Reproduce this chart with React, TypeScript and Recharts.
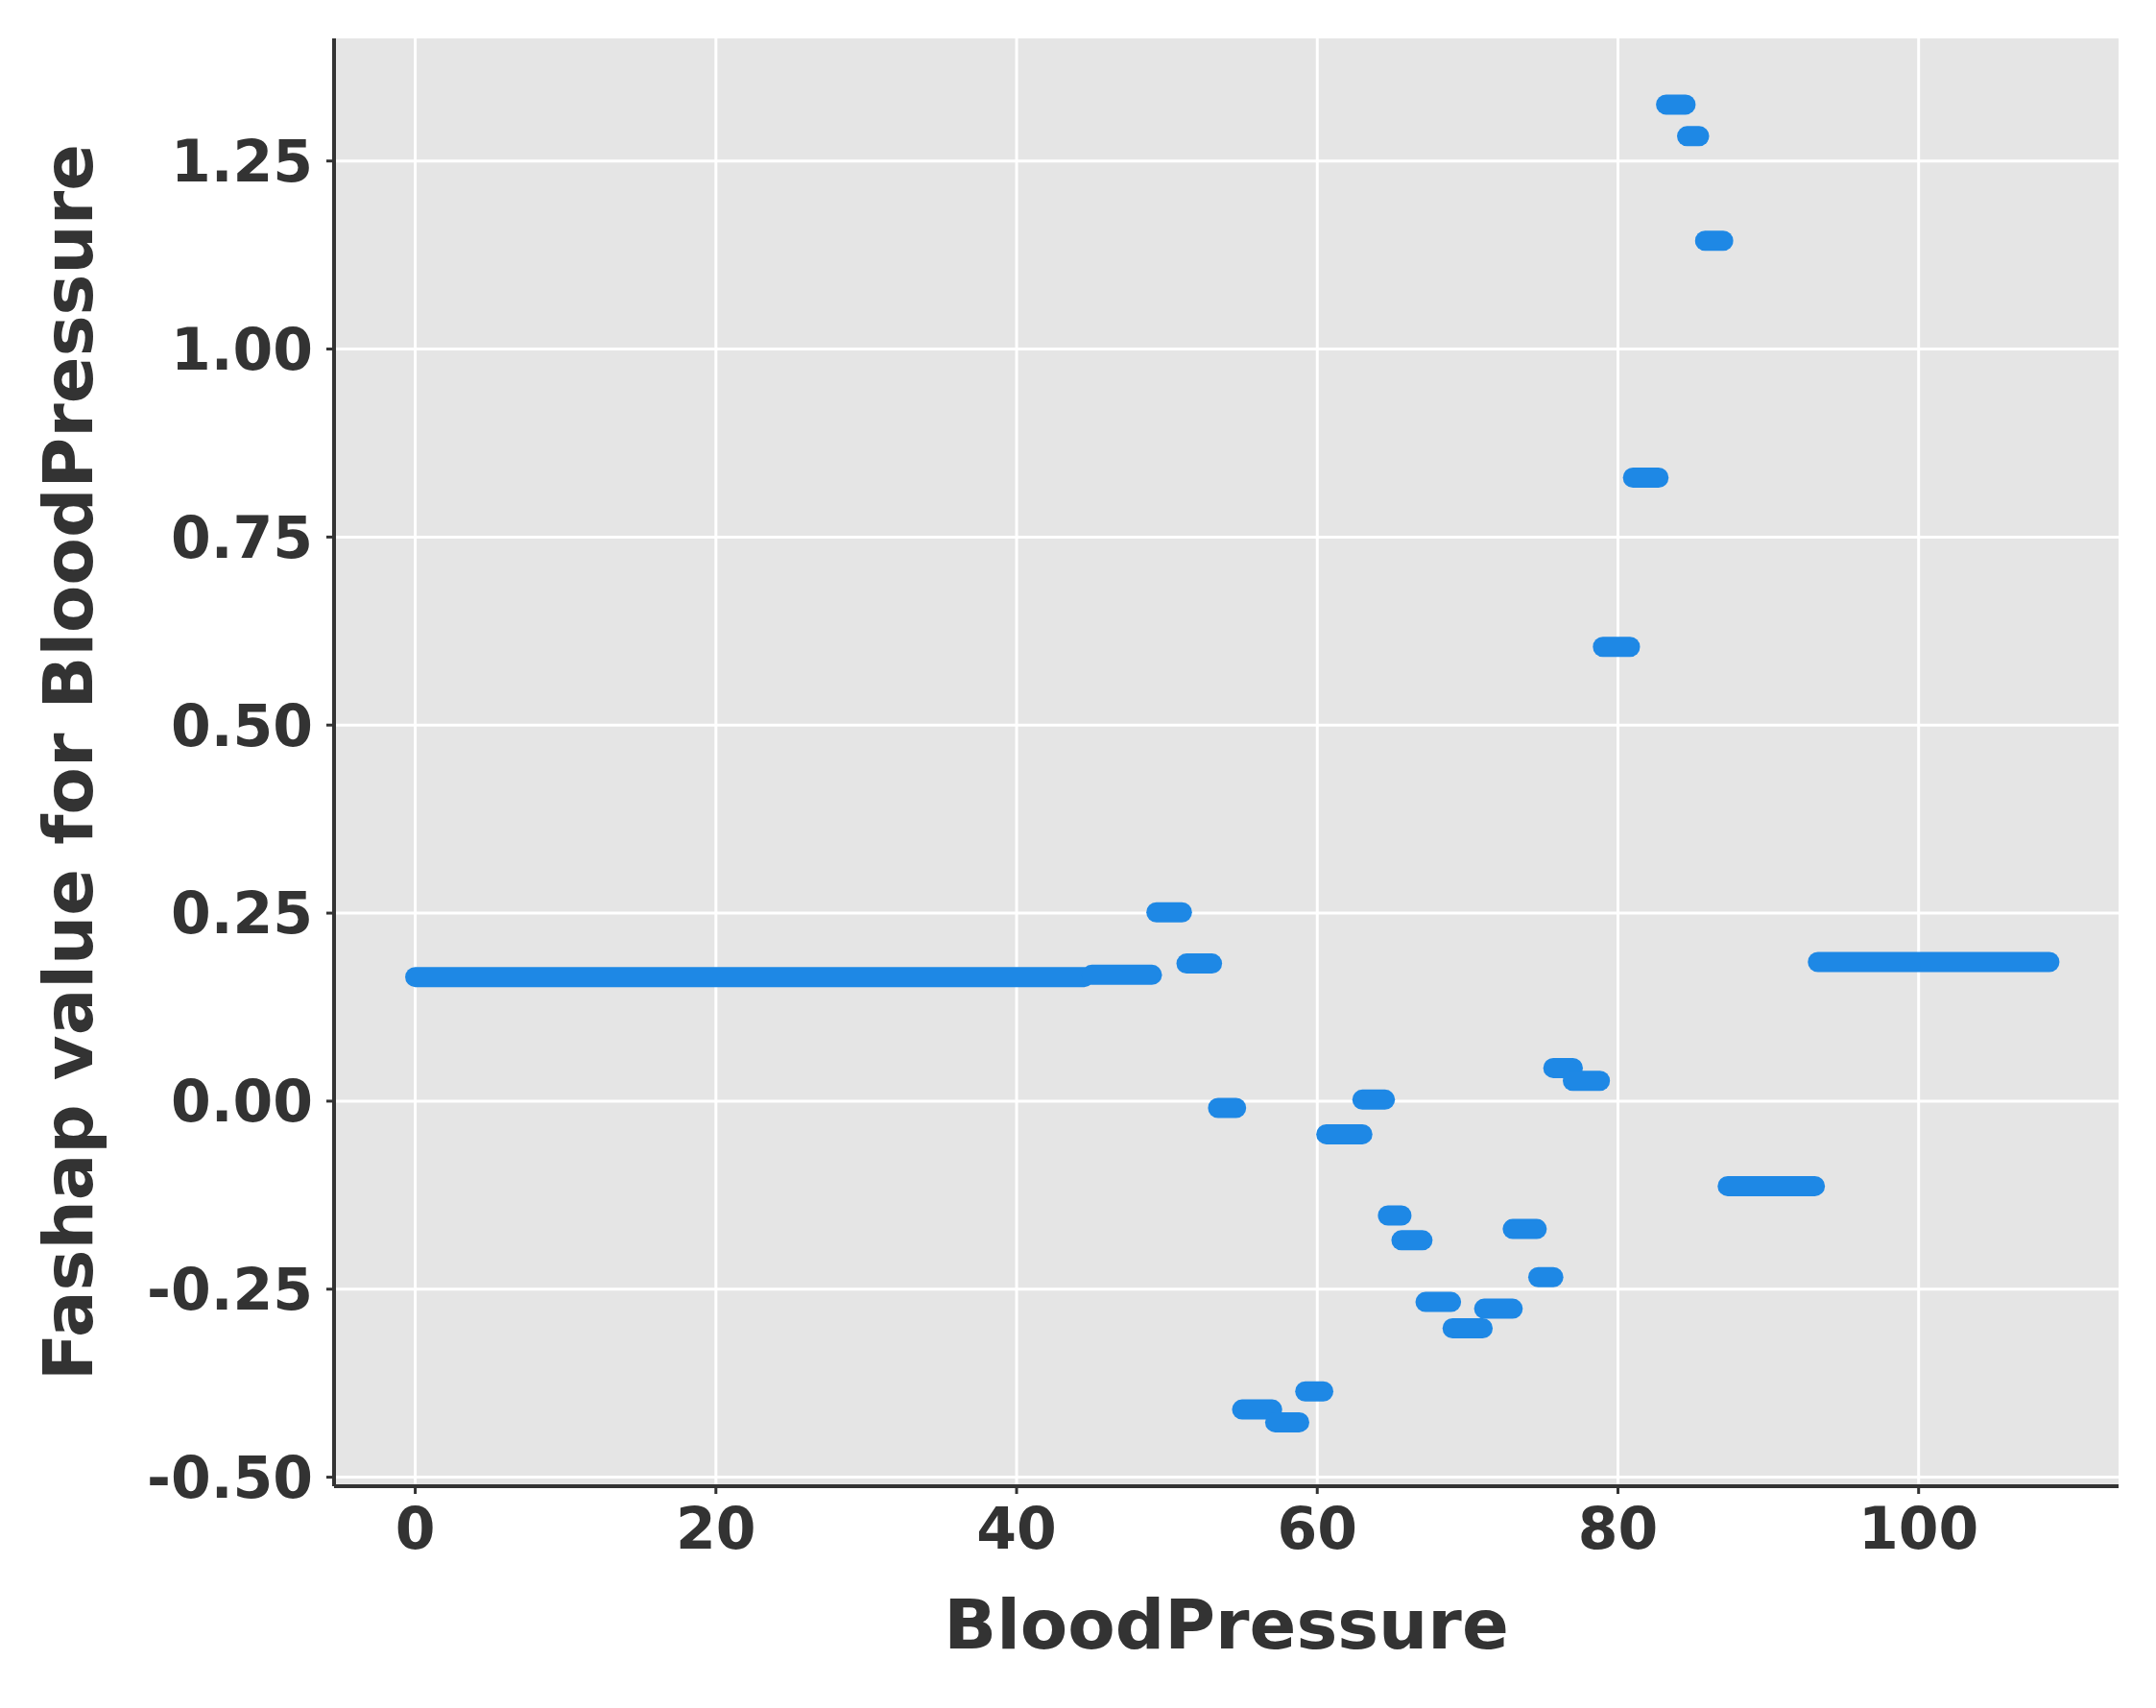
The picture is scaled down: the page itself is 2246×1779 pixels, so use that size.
import React from 'react';
import { ComposedChart, Scatter, XAxis, YAxis, CartesianGrid } from 'recharts';

const segStart = [0, 45, 49.3, 51.3, 53.4, 55, 57.2, 59.2, 60.6, 63, 64.7, 65.6, 67.2, 69, 71.1, 73, 74.7, 75.7, 77, 79, 81, 83.2, 84.6, 85.8, 87.3, 93.3];
const segEnd = [44.5, 49, 51, 53, 54.6, 57, 58.8, 60.4, 63, 64.5, 65.6, 67, 68.9, 71, 73, 74.6, 75.7, 77, 78.8, 80.8, 82.7, 84.5, 85.4, 87, 93.1, 108.7];
const segValue = [0.165, 0.168, 0.251, 0.183, -0.009, -0.41, -0.427, -0.386, -0.044, 0.002, -0.152, -0.185, -0.267, -0.302, -0.276, -0.17, -0.234, 0.044, 0.027, 0.604, 0.829, 1.325, 1.283, 1.144, -0.113, 0.185];
const xTicks = [0, 20, 40, 60, 80, 100];
const yTicks = [-0.5, -0.25, 0, 0.25, 0.5, 0.75, 1.0, 1.25];

const BLUE = '#1e88e5';
const TXT = '#333333';
const font = 'DejaVu Sans';

export default function App() {
  const segments = segStart.map((s, i) => [
    { x: s, y: segValue[i] },
    { x: segEnd[i], y: segValue[i] },
  ]);
  const tick = { fill: TXT, fontSize: 60, fontWeight: 'bold', fontFamily: font };
  return (
    <ComposedChart width={2238} height={1771} margin={{ top: 32, right: 39, left: 40, bottom: 0 }}>
      <CartesianGrid stroke="#ffffff" strokeWidth={3} fill="#e5e5e5" fillOpacity={1} horizontalValues={yTicks} verticalValues={xTicks} />
      <XAxis
        type="number"
        dataKey="x"
        domain={[-5.4, 113.3]}
        ticks={xTicks}
        allowDataOverflow
        height={231}
        tick={tick}
        tickMargin={14}
        tickSize={8}
        axisLine={{ stroke: TXT, strokeWidth: 4 }}
        tickLine={{ stroke: TXT, strokeWidth: 3 }}
        label={{ value: 'BloodPressure', position: 'insideTop', offset: 118, fill: TXT, fontSize: 72, fontWeight: 'bold', fontFamily: font }}
      />
      <YAxis
        type="number"
        dataKey="y"
        domain={[-0.512, 1.413]}
        ticks={yTicks}
        allowDataOverflow
        width={300}
        tick={tick}
        tickMargin={14}
        tickSize={8}
        tickFormatter={(v: number) => v.toFixed(2)}
        axisLine={{ stroke: TXT, strokeWidth: 4 }}
        tickLine={{ stroke: TXT, strokeWidth: 3 }}
        label={{ value: 'Fashap value for BloodPressure', angle: -90, position: 'insideLeft', offset: 0, dx: 22, fill: TXT, fontSize: 72, fontWeight: 'bold', fontFamily: font, style: { textAnchor: 'middle' } }}
      />
      {segments.map((d, i) => (
        <Scatter
          key={i}
          data={d}
          isAnimationActive={false}
          line={{ stroke: BLUE, strokeWidth: 21, strokeLinecap: 'round' } as any}
          shape={() => null as any}
          fill={BLUE}
        />
      ))}
    </ComposedChart>
  );
}
